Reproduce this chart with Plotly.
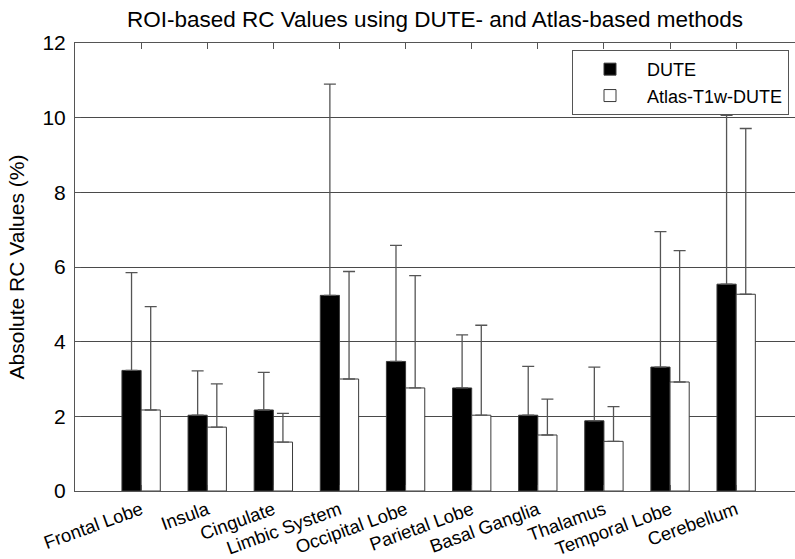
import plotly.graph_objects as go

categories = ["Frontal Lobe", "Insula", "Cingulate", "Limbic System", "Occipital Lobe",
              "Parietal Lobe", "Basal Ganglia", "Thalamus", "Temporal Lobe", "Cerebellum"]
series_names = ["DUTE", "Atlas-T1w-DUTE"]
dute_mean = [3.23, 2.03, 2.17, 5.24, 3.47, 2.76, 2.03, 1.88, 3.32, 5.54]
dute_sd = [2.62, 1.19, 1.01, 5.66, 3.11, 1.42, 1.31, 1.44, 3.63, 4.52]
atlas_mean = [2.17, 1.71, 1.31, 3.00, 2.76, 2.03, 1.50, 1.33, 2.92, 5.27]
atlas_sd = [2.77, 1.16, 0.77, 2.88, 3.01, 2.41, 0.96, 0.93, 3.52, 4.44]
y_ticks = [0, 2, 4, 6, 8, 10, 12]

FONT = "Liberation Sans, Arial, sans-serif"
xpos = list(range(1, len(categories) + 1))

fig = go.Figure()
fig.add_trace(go.Bar(
    x=xpos, y=dute_mean, name=series_names[0],
    marker=dict(color="black", line=dict(color="#3a3a3a", width=1)),
    error_y=dict(type="data", symmetric=False, array=dute_sd,
                 arrayminus=[0] * len(dute_sd), color="#555555", thickness=1.3, width=6),
))
fig.add_trace(go.Bar(
    x=xpos, y=atlas_mean, name=series_names[1],
    marker=dict(color="white", line=dict(color="#3a3a3a", width=1)),
    error_y=dict(type="data", symmetric=False, array=atlas_sd,
                 arrayminus=[0] * len(atlas_sd), color="#555555", thickness=1.3, width=6),
))

fig.update_layout(
    width=795, height=559,
    margin=dict(l=75, r=0, t=43, b=65),
    paper_bgcolor="white", plot_bgcolor="white",
    barmode="group", bargap=0.42, bargroupgap=0,
    font=dict(family=FONT, color="black"),
    title=dict(text="ROI-based RC Values using DUTE- and Atlas-based methods",
               font=dict(size=22.5, family=FONT, color="black"),
               x=0.5, xref="paper", xanchor="center",
               y=1 - 19 / 559, yref="container", yanchor="middle"),
    legend=dict(x=(572 - 75) / 720, y=1 - (50 - 43) / 451, xanchor="left", yanchor="top",
                bgcolor="white", bordercolor="#555555", borderwidth=1,
                font=dict(size=18, family=FONT, color="black"),
                itemwidth=64, tracegroupgap=0),
    xaxis=dict(range=[0, 10.89], tickmode="array", tickvals=xpos, ticktext=categories,
               tickangle=-20, tickfont=dict(size=18.5, family=FONT, color="black"),
               ticks="inside", ticklen=6, tickcolor="#555555",
               showline=True, linecolor="#555555", linewidth=1, mirror="ticks",
               showgrid=False, zeroline=False),
    yaxis=dict(range=[0, 12], tickmode="array", tickvals=y_ticks,
               tickfont=dict(size=21, family=FONT, color="black"),
               ticks="inside", ticklen=6, tickcolor="#555555", ticklabelstandoff=4,
               showline=True, linecolor="#555555", linewidth=1,
               showgrid=True, gridcolor="#4a4a4a", gridwidth=1, zeroline=False,
               title=dict(text="Absolute RC Values (%)", standoff=12,
                          font=dict(size=21, family=FONT, color="black"))),
)

fig.write_html(
    "out.html",
    config={"displayModeBar": False},
    post_script="document.body.style.margin='0';document.body.style.overflow='hidden';",
)
